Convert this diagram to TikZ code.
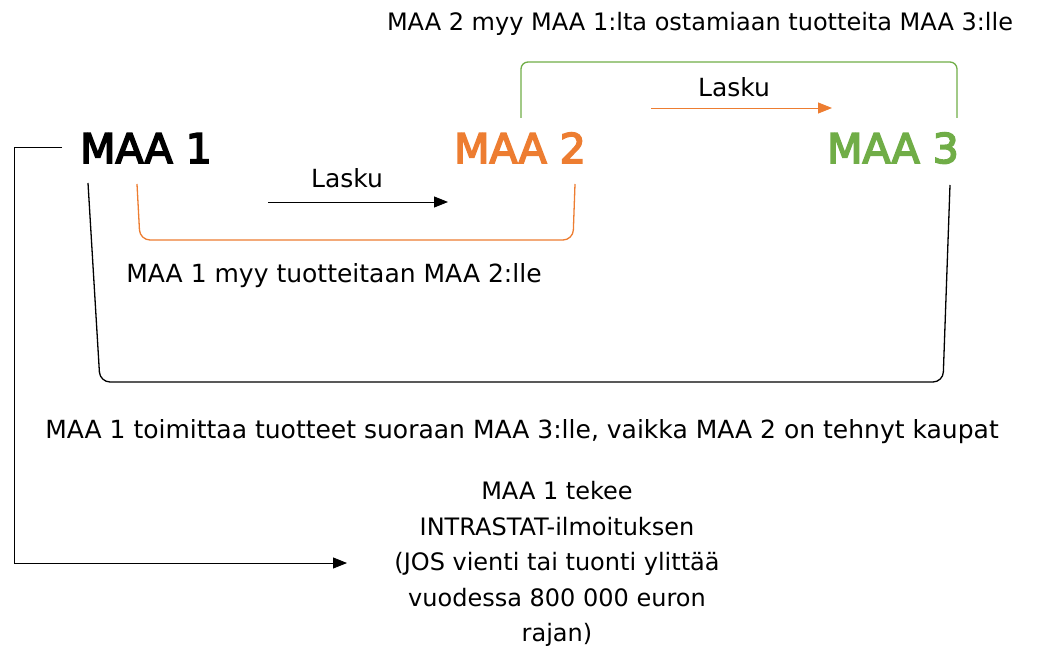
\documentclass[tikz,border=0pt]{standalone}
\usepackage{fontspec}
\setmainfont{DejaVu Sans}
\newfontfamily\bigfont[FakeBold=4]{DejaVu Sans}
\usetikzlibrary{arrows.meta}
\definecolor{orng}{HTML}{ED7D31}
\definecolor{grn}{HTML}{70AD47}
\tikzset{
  big/.style={font=\bigfont\fontsize{41}{50}\selectfont, inner sep=0pt},
  lbl/.style={font=\fontsize{25}{28}\selectfont, inner sep=0pt},
  brk/.style={line width=1.3pt, rounded corners=10pt},
  arr/.style={line width=0.9pt, -{Triangle[length=14pt,width=11pt]}},
}
\begin{document}
\begin{tikzpicture}[x=1pt,y=-1pt]
\useasboundingbox (0,0) rectangle (1046,647);
% title nodes
\node[big, anchor=base] (m1) at (146,163) {MAA 1};
\node[big, anchor=base, text=orng] (m2) at (520,163) {MAA 2};
\node[big, anchor=base, text=grn] (m3) at (893,163) {MAA 3};
% texts
\node[lbl, anchor=base, font=\fontsize{24}{28}\selectfont] (t23) at (700,31) {MAA 2 myy MAA 1:lta ostamiaan tuotteita MAA 3:lle};
\node[lbl, anchor=base] (la1) at (734,97) {Lasku};
\node[lbl, anchor=base] (la2) at (347,187) {Lasku};
\node[lbl, anchor=base] (t12) at (334,282) {MAA 1 myy tuotteitaan MAA 2:lle};
\node[lbl, anchor=base] (t13) at (522,438) {MAA 1 toimittaa tuotteet suoraan MAA 3:lle, vaikka MAA 2 on tehnyt kaupat};
\node[lbl, align=center, font=\fontsize{24}{35.5}\selectfont] (intr) at (557,564) {MAA 1 tekee\\INTRASTAT-ilmoituksen\\(JOS vienti tai tuonti ylittää\\vuodessa 800 000 euron\\rajan)};
% coordinates
\coordinate (g1) at (521,118);
\coordinate (g2) at (957,118);
\coordinate (o1) at (137,184);
\coordinate (o2) at (575,184);
\coordinate (b1) at (88,183);
\coordinate (b2) at (950,185);
\coordinate (a1s) at (651,108);
\coordinate (a1e) at (832,108);
\coordinate (a2s) at (268,202);
\coordinate (a2e) at (448,202);
\coordinate (ls) at (62,147);
\coordinate (le) at (347,563);
% brackets
\draw[brk, grn, rounded corners=7pt] (g1) -- (521,62) -- (957,62) -- (g2);
\draw[brk, orng] (o1) -- (140,240) -- (573,240) -- (o2);
\draw[brk, black] (b1) -- (100,382) -- (943,382) -- (b2);
% arrows
\draw[arr, orng] (a1s) -- (a1e);
\draw[arr, black] (a2s) -- (a2e);
\draw[line width=0.9pt, -{Triangle[length=14pt,width=11pt]}] (ls) -- (14,147) -- (14,563) -- (le);
\end{tikzpicture}
\end{document}
